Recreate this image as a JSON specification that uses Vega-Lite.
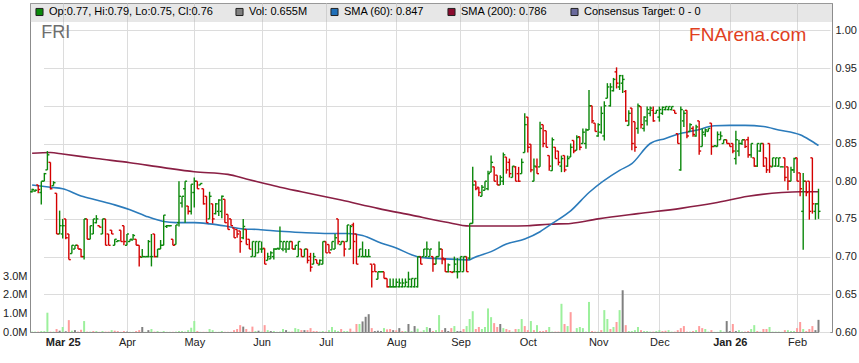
{
"$schema":"https://vega.github.io/schema/vega-lite/v6.json",
"width":802,"height":329,
"autosize":{"type":"none"},
"padding":{"left":30,"top":3,"right":27,"bottom":31},
"background":"white",
"config":{"font":"Liberation Sans","view":{"stroke":"#8c8c8c","strokeWidth":1},"axis":{"labelFont":"Liberation Sans","labelFontSize":11,"labelColor":"#222222","domainColor":"#8c8c8c","gridColor":"#dcdcdc","ticks":false,"title":null}},
"datasets":{
"px":[
{"d":"2025-02-17","o":0.786,"h":0.79,"l":0.785,"c":0.789,"t":"u","v":0.02,"k":"u"},
{"d":"2025-02-18","o":0.787,"h":0.789,"l":0.786,"c":0.788,"t":"u","v":0.02,"k":"u"},
{"d":"2025-02-19","o":0.795,"h":0.795,"l":0.784,"c":0.789,"t":"d","v":0.02,"k":"d"},
{"d":"2025-02-20","o":0.785,"h":0.8,"l":0.769,"c":0.8,"t":"u","v":0.05,"k":"u"},
{"d":"2025-02-21","o":0.8,"h":0.811,"l":0.8,"c":0.81,"t":"u","v":0.05,"k":"u"},
{"d":"2025-02-24","o":0.815,"h":0.84,"l":0.815,"c":0.835,"t":"u","v":1.04,"k":"u"},
{"d":"2025-02-25","o":0.825,"h":0.825,"l":0.789,"c":0.79,"t":"d","v":0.02,"k":"d"},
{"d":"2025-02-26","o":0.794,"h":0.8,"l":0.794,"c":0.798,"t":"u","v":0.02,"k":"u"},
{"d":"2025-02-27","o":0.784,"h":0.784,"l":0.73,"c":0.73,"t":"d","v":0.16,"k":"d"},
{"d":"2025-02-28","o":0.73,"h":0.761,"l":0.73,"c":0.741,"t":"u","v":0.07,"k":"n"},
{"d":"2025-03-03","o":0.73,"h":0.75,"l":0.724,"c":0.741,"t":"u","v":0.27,"k":"u"},
{"d":"2025-03-04","o":0.75,"h":0.75,"l":0.723,"c":0.725,"t":"d","v":0.04,"k":"n"},
{"d":"2025-03-05","o":0.73,"h":0.73,"l":0.696,"c":0.696,"t":"d","v":0.64,"k":"d"},
{"d":"2025-03-06","o":0.704,"h":0.715,"l":0.704,"c":0.715,"t":"u","v":0.07,"k":"u"},
{"d":"2025-03-07","o":0.71,"h":0.715,"l":0.71,"c":0.715,"t":"u","v":0.1,"k":"n"},
{"d":"2025-03-10","o":0.715,"h":0.715,"l":0.71,"c":0.71,"t":"d","v":0.02,"k":"d"},
{"d":"2025-03-11","o":0.71,"h":0.71,"l":0.699,"c":0.7,"t":"d","v":0.12,"k":"d"},
{"d":"2025-03-12","o":0.7,"h":0.75,"l":0.696,"c":0.75,"t":"u","v":0.59,"k":"u"},
{"d":"2025-03-13","o":0.75,"h":0.75,"l":0.723,"c":0.723,"t":"d","v":0.02,"k":"d"},
{"d":"2025-03-14","o":0.723,"h":0.741,"l":0.723,"c":0.741,"t":"u","v":0.02,"k":"u"},
{"d":"2025-03-17","o":0.73,"h":0.75,"l":0.73,"c":0.75,"t":"u","v":0.05,"k":"d"},
{"d":"2025-03-18","o":0.745,"h":0.755,"l":0.744,"c":0.75,"t":"u","v":0.05,"k":"u"},
{"d":"2025-03-19","o":0.741,"h":0.741,"l":0.739,"c":0.739,"t":"d","v":0.01,"k":"d"},
{"d":"2025-03-20","o":0.73,"h":0.75,"l":0.73,"c":0.75,"t":"u","v":0.05,"k":"u"},
{"d":"2025-03-21","o":0.75,"h":0.75,"l":0.715,"c":0.715,"t":"d","v":0.02,"k":"d"},
{"d":"2025-03-24","o":0.73,"h":0.73,"l":0.715,"c":0.715,"t":"d","v":0.02,"k":"d"},
{"d":"2025-03-25","o":0.735,"h":0.735,"l":0.73,"c":0.73,"t":"d","v":0.1,"k":"u"},
{"d":"2025-03-26","o":0.715,"h":0.723,"l":0.715,"c":0.723,"t":"u","v":0.07,"k":"d"},
{"d":"2025-03-27","o":0.72,"h":0.722,"l":0.72,"c":0.721,"t":"u","v":0.05,"k":"d"},
{"d":"2025-03-28","o":0.735,"h":0.735,"l":0.72,"c":0.72,"t":"d","v":0.01,"k":"d"},
{"d":"2025-03-31","o":0.741,"h":0.741,"l":0.715,"c":0.72,"t":"d","v":0.05,"k":"d"},
{"d":"2025-04-01","o":0.715,"h":0.73,"l":0.715,"c":0.73,"t":"u","v":0.02,"k":"n"},
{"d":"2025-04-02","o":0.72,"h":0.723,"l":0.72,"c":0.723,"t":"u","v":0.01,"k":"u"},
{"d":"2025-04-03","o":0.722,"h":0.73,"l":0.722,"c":0.728,"t":"u","v":0.01,"k":"u"},
{"d":"2025-04-04","o":0.723,"h":0.723,"l":0.715,"c":0.715,"t":"d","v":0.05,"k":"d"},
{"d":"2025-04-07","o":0.715,"h":0.715,"l":0.687,"c":0.7,"t":"d","v":0.1,"k":"d"},
{"d":"2025-04-08","o":0.699,"h":0.71,"l":0.699,"c":0.7,"t":"u","v":0.27,"k":"n"},
{"d":"2025-04-09","o":0.7,"h":0.7,"l":0.699,"c":0.7,"t":"u","v":0.01,"k":"u"},
{"d":"2025-04-10","o":0.7,"h":0.722,"l":0.699,"c":0.72,"t":"u","v":0.1,"k":"n"},
{"d":"2025-04-11","o":0.7,"h":0.73,"l":0.687,"c":0.7,"t":"u","v":0.16,"k":"u"},
{"d":"2025-04-14","o":0.73,"h":0.73,"l":0.699,"c":0.7,"t":"d","v":0.02,"k":"d"},
{"d":"2025-04-15","o":0.7,"h":0.71,"l":0.699,"c":0.71,"t":"u","v":0.05,"k":"u"},
{"d":"2025-04-16","o":0.71,"h":0.722,"l":0.71,"c":0.715,"t":"u","v":0.01,"k":"u"},
{"d":"2025-04-17","o":0.715,"h":0.755,"l":0.715,"c":0.755,"t":"u","v":0.05,"k":"u"},
{"d":"2025-04-18","o":0.74,"h":0.742,"l":0.738,"c":0.741,"t":"u","v":0.01,"k":"u"},
{"d":"2025-04-21","o":0.741,"h":0.742,"l":0.74,"c":0.741,"t":"u","v":0.01,"k":"u"},
{"d":"2025-04-22","o":0.723,"h":0.723,"l":0.715,"c":0.715,"t":"d","v":0.01,"k":"d"},
{"d":"2025-04-23","o":0.716,"h":0.742,"l":0.716,"c":0.742,"t":"u","v":0.02,"k":"u"},
{"d":"2025-04-24","o":0.745,"h":0.8,"l":0.74,"c":0.78,"t":"u","v":0.05,"k":"u"},
{"d":"2025-04-25","o":0.771,"h":0.78,"l":0.765,"c":0.78,"t":"u","v":0.05,"k":"u"},
{"d":"2025-04-28","o":0.79,"h":0.8,"l":0.745,"c":0.8,"t":"u","v":0.02,"k":"u"},
{"d":"2025-04-29","o":0.767,"h":0.767,"l":0.756,"c":0.76,"t":"d","v":0.1,"k":"u"},
{"d":"2025-04-30","o":0.76,"h":0.796,"l":0.756,"c":0.796,"t":"u","v":0.23,"k":"u"},
{"d":"2025-05-01","o":0.785,"h":0.805,"l":0.765,"c":0.8,"t":"u","v":0.59,"k":"u"},
{"d":"2025-05-02","o":0.8,"h":0.8,"l":0.79,"c":0.79,"t":"d","v":0.05,"k":"d"},
{"d":"2025-05-05","o":0.795,"h":0.797,"l":0.795,"c":0.797,"t":"u","v":0.01,"k":"u"},
{"d":"2025-05-06","o":0.79,"h":0.79,"l":0.769,"c":0.77,"t":"d","v":0.01,"k":"d"},
{"d":"2025-05-07","o":0.78,"h":0.78,"l":0.745,"c":0.745,"t":"d","v":0.01,"k":"d"},
{"d":"2025-05-08","o":0.75,"h":0.786,"l":0.75,"c":0.78,"t":"u","v":0.16,"k":"u"},
{"d":"2025-05-09","o":0.77,"h":0.77,"l":0.744,"c":0.75,"t":"d","v":0.1,"k":"u"},
{"d":"2025-05-12","o":0.757,"h":0.771,"l":0.756,"c":0.77,"t":"u","v":0.01,"k":"u"},
{"d":"2025-05-13","o":0.76,"h":0.776,"l":0.754,"c":0.775,"t":"u","v":0.01,"k":"u"},
{"d":"2025-05-14","o":0.76,"h":0.781,"l":0.751,"c":0.78,"t":"u","v":0.05,"k":"u"},
{"d":"2025-05-15","o":0.776,"h":0.776,"l":0.745,"c":0.745,"t":"d","v":0.01,"k":"d"},
{"d":"2025-05-16","o":0.756,"h":0.756,"l":0.736,"c":0.736,"t":"d","v":0.01,"k":"d"},
{"d":"2025-05-19","o":0.75,"h":0.75,"l":0.741,"c":0.741,"t":"d","v":0.01,"k":"d"},
{"d":"2025-05-20","o":0.738,"h":0.738,"l":0.725,"c":0.725,"t":"d","v":0.1,"k":"d"},
{"d":"2025-05-21","o":0.736,"h":0.736,"l":0.725,"c":0.73,"t":"d","v":0.16,"k":"d"},
{"d":"2025-05-22","o":0.734,"h":0.734,"l":0.705,"c":0.72,"t":"d","v":0.37,"k":"d"},
{"d":"2025-05-23","o":0.725,"h":0.75,"l":0.723,"c":0.74,"t":"u","v":0.29,"k":"n"},
{"d":"2025-05-26","o":0.736,"h":0.736,"l":0.716,"c":0.716,"t":"d","v":0.16,"k":"d"},
{"d":"2025-05-27","o":0.723,"h":0.723,"l":0.71,"c":0.71,"t":"d","v":0.02,"k":"d"},
{"d":"2025-05-28","o":0.7,"h":0.72,"l":0.7,"c":0.72,"t":"u","v":0.29,"k":"d"},
{"d":"2025-05-29","o":0.7,"h":0.72,"l":0.7,"c":0.72,"t":"u","v":0.05,"k":"u"},
{"d":"2025-05-30","o":0.705,"h":0.72,"l":0.705,"c":0.72,"t":"u","v":0.07,"k":"n"},
{"d":"2025-06-02","o":0.71,"h":0.72,"l":0.705,"c":0.71,"t":"u","v":0.02,"k":"u"},
{"d":"2025-06-03","o":0.711,"h":0.711,"l":0.69,"c":0.69,"t":"d","v":0.37,"k":"d"},
{"d":"2025-06-04","o":0.695,"h":0.705,"l":0.695,"c":0.7,"t":"u","v":0.1,"k":"u"},
{"d":"2025-06-05","o":0.697,"h":0.707,"l":0.697,"c":0.705,"t":"u","v":0.05,"k":"n"},
{"d":"2025-06-06","o":0.7,"h":0.711,"l":0.696,"c":0.71,"t":"u","v":0.05,"k":"u"},
{"d":"2025-06-09","o":0.71,"h":0.711,"l":0.709,"c":0.711,"t":"u","v":0.01,"k":"u"},
{"d":"2025-06-10","o":0.71,"h":0.74,"l":0.71,"c":0.72,"t":"u","v":0.02,"k":"u"},
{"d":"2025-06-11","o":0.71,"h":0.72,"l":0.707,"c":0.72,"t":"u","v":0.16,"k":"u"},
{"d":"2025-06-12","o":0.71,"h":0.72,"l":0.705,"c":0.72,"t":"u","v":0.1,"k":"n"},
{"d":"2025-06-13","o":0.71,"h":0.72,"l":0.709,"c":0.72,"t":"u","v":0.02,"k":"u"},
{"d":"2025-06-16","o":0.72,"h":0.72,"l":0.71,"c":0.71,"t":"d","v":0.02,"k":"d"},
{"d":"2025-06-17","o":0.71,"h":0.715,"l":0.709,"c":0.715,"t":"u","v":0.21,"k":"u"},
{"d":"2025-06-18","o":0.7,"h":0.72,"l":0.7,"c":0.72,"t":"u","v":0.16,"k":"u"},
{"d":"2025-06-19","o":0.71,"h":0.71,"l":0.7,"c":0.7,"t":"d","v":0.1,"k":"d"},
{"d":"2025-06-20","o":0.7,"h":0.71,"l":0.7,"c":0.71,"t":"u","v":0.1,"k":"n"},
{"d":"2025-06-23","o":0.71,"h":0.71,"l":0.691,"c":0.695,"t":"d","v":0.1,"k":"d"},
{"d":"2025-06-24","o":0.7,"h":0.705,"l":0.68,"c":0.686,"t":"d","v":0.21,"k":"d"},
{"d":"2025-06-25","o":0.69,"h":0.705,"l":0.69,"c":0.7,"t":"u","v":0.05,"k":"d"},
{"d":"2025-06-26","o":0.696,"h":0.696,"l":0.691,"c":0.691,"t":"d","v":0.05,"k":"d"},
{"d":"2025-06-27","o":0.689,"h":0.696,"l":0.689,"c":0.695,"t":"u","v":0.02,"k":"u"},
{"d":"2025-06-30","o":0.69,"h":0.72,"l":0.69,"c":0.72,"t":"u","v":0.05,"k":"u"},
{"d":"2025-07-01","o":0.72,"h":0.72,"l":0.705,"c":0.705,"t":"d","v":0.02,"k":"d"},
{"d":"2025-07-02","o":0.716,"h":0.716,"l":0.705,"c":0.705,"t":"d","v":0.1,"k":"u"},
{"d":"2025-07-03","o":0.709,"h":0.72,"l":0.709,"c":0.72,"t":"u","v":0.27,"k":"u"},
{"d":"2025-07-04","o":0.71,"h":0.73,"l":0.71,"c":0.725,"t":"u","v":0.1,"k":"u"},
{"d":"2025-07-07","o":0.75,"h":0.75,"l":0.716,"c":0.72,"t":"d","v":0.05,"k":"u"},
{"d":"2025-07-08","o":0.716,"h":0.72,"l":0.716,"c":0.72,"t":"u","v":0.16,"k":"d"},
{"d":"2025-07-09","o":0.72,"h":0.72,"l":0.7,"c":0.71,"t":"d","v":0.05,"k":"u"},
{"d":"2025-07-10","o":0.72,"h":0.742,"l":0.72,"c":0.742,"t":"u","v":0.05,"k":"u"},
{"d":"2025-07-11","o":0.71,"h":0.742,"l":0.71,"c":0.74,"t":"u","v":0.18,"k":"d"},
{"d":"2025-07-14","o":0.742,"h":0.745,"l":0.69,"c":0.72,"t":"d","v":0.02,"k":"d"},
{"d":"2025-07-15","o":0.73,"h":0.73,"l":0.69,"c":0.69,"t":"d","v":0.43,"k":"d"},
{"d":"2025-07-16","o":0.7,"h":0.71,"l":0.7,"c":0.71,"t":"u","v":0.43,"k":"u"},
{"d":"2025-07-17","o":0.7,"h":0.72,"l":0.7,"c":0.7,"t":"u","v":0.57,"k":"n"},
{"d":"2025-07-18","o":0.7,"h":0.71,"l":0.7,"c":0.7,"t":"u","v":0.82,"k":"n"},
{"d":"2025-07-21","o":0.7,"h":0.71,"l":0.7,"c":0.7,"t":"u","v":0.96,"k":"n"},
{"d":"2025-07-22","o":0.69,"h":0.69,"l":0.659,"c":0.68,"t":"d","v":0.21,"k":"d"},
{"d":"2025-07-23","o":0.69,"h":0.69,"l":0.68,"c":0.68,"t":"d","v":0.05,"k":"n"},
{"d":"2025-07-24","o":0.67,"h":0.68,"l":0.67,"c":0.68,"t":"u","v":0.07,"k":"n"},
{"d":"2025-07-25","o":0.68,"h":0.68,"l":0.679,"c":0.68,"t":"u","v":0.05,"k":"n"},
{"d":"2025-07-28","o":0.68,"h":0.68,"l":0.671,"c":0.671,"t":"d","v":0.21,"k":"u"},
{"d":"2025-07-29","o":0.671,"h":0.671,"l":0.659,"c":0.66,"t":"d","v":0.14,"k":"d"},
{"d":"2025-07-30","o":0.66,"h":0.671,"l":0.659,"c":0.66,"t":"u","v":0.16,"k":"d"},
{"d":"2025-07-31","o":0.66,"h":0.671,"l":0.659,"c":0.66,"t":"u","v":0.1,"k":"n"},
{"d":"2025-08-01","o":0.66,"h":0.671,"l":0.659,"c":0.666,"t":"u","v":0.09,"k":"d"},
{"d":"2025-08-04","o":0.66,"h":0.671,"l":0.659,"c":0.665,"t":"u","v":0.21,"k":"n"},
{"d":"2025-08-05","o":0.66,"h":0.671,"l":0.659,"c":0.665,"t":"u","v":0.05,"k":"d"},
{"d":"2025-08-06","o":0.66,"h":0.671,"l":0.66,"c":0.666,"t":"u","v":0.05,"k":"u"},
{"d":"2025-08-07","o":0.66,"h":0.68,"l":0.659,"c":0.67,"t":"u","v":0.43,"k":"n"},
{"d":"2025-08-08","o":0.66,"h":0.671,"l":0.659,"c":0.671,"t":"u","v":0.05,"k":"u"},
{"d":"2025-08-11","o":0.66,"h":0.671,"l":0.659,"c":0.671,"t":"u","v":0.32,"k":"n"},
{"d":"2025-08-12","o":0.66,"h":0.7,"l":0.659,"c":0.7,"t":"u","v":0.18,"k":"u"},
{"d":"2025-08-13","o":0.7,"h":0.7,"l":0.69,"c":0.69,"t":"d","v":0.02,"k":"d"},
{"d":"2025-08-14","o":0.7,"h":0.71,"l":0.7,"c":0.71,"t":"u","v":0.1,"k":"u"},
{"d":"2025-08-15","o":0.7,"h":0.72,"l":0.7,"c":0.71,"t":"u","v":0.27,"k":"u"},
{"d":"2025-08-18","o":0.7,"h":0.71,"l":0.7,"c":0.71,"t":"u","v":0.21,"k":"n"},
{"d":"2025-08-19","o":0.7,"h":0.7,"l":0.68,"c":0.69,"t":"d","v":0.05,"k":"d"},
{"d":"2025-08-20","o":0.69,"h":0.7,"l":0.69,"c":0.7,"t":"u","v":0.1,"k":"u"},
{"d":"2025-08-21","o":0.7,"h":0.72,"l":0.7,"c":0.71,"t":"u","v":0.91,"k":"u"},
{"d":"2025-08-22","o":0.71,"h":0.71,"l":0.69,"c":0.698,"t":"d","v":0.1,"k":"d"},
{"d":"2025-08-25","o":0.696,"h":0.698,"l":0.68,"c":0.68,"t":"d","v":0.21,"k":"n"},
{"d":"2025-08-26","o":0.68,"h":0.691,"l":0.679,"c":0.689,"t":"u","v":0.05,"k":"n"},
{"d":"2025-08-27","o":0.68,"h":0.68,"l":0.679,"c":0.679,"t":"d","v":0.21,"k":"d"},
{"d":"2025-08-28","o":0.68,"h":0.7,"l":0.679,"c":0.69,"t":"u","v":0.32,"k":"u"},
{"d":"2025-08-29","o":0.68,"h":0.698,"l":0.671,"c":0.68,"t":"u","v":0.05,"k":"n"},
{"d":"2025-09-01","o":0.68,"h":0.7,"l":0.68,"c":0.7,"t":"u","v":0.05,"k":"n"},
{"d":"2025-09-02","o":0.68,"h":0.7,"l":0.68,"c":0.7,"t":"u","v":0.16,"k":"d"},
{"d":"2025-09-03","o":0.7,"h":0.7,"l":0.68,"c":0.68,"t":"d","v":0.32,"k":"u"},
{"d":"2025-09-04","o":0.698,"h":0.744,"l":0.696,"c":0.744,"t":"u","v":0.7,"k":"u"},
{"d":"2025-09-05","o":0.744,"h":0.819,"l":0.744,"c":0.795,"t":"u","v":1.12,"k":"u"},
{"d":"2025-09-08","o":0.8,"h":0.8,"l":0.788,"c":0.79,"t":"d","v":0.16,"k":"d"},
{"d":"2025-09-09","o":0.792,"h":0.792,"l":0.78,"c":0.785,"t":"d","v":0.27,"k":"d"},
{"d":"2025-09-10","o":0.78,"h":0.795,"l":0.78,"c":0.792,"t":"u","v":0.16,"k":"u"},
{"d":"2025-09-11","o":0.788,"h":0.8,"l":0.788,"c":0.8,"t":"u","v":0.27,"k":"u"},
{"d":"2025-09-12","o":0.79,"h":0.814,"l":0.788,"c":0.81,"t":"u","v":1.27,"k":"u"},
{"d":"2025-09-15","o":0.812,"h":0.834,"l":0.812,"c":0.825,"t":"u","v":0.8,"k":"u"},
{"d":"2025-09-16","o":0.819,"h":0.819,"l":0.8,"c":0.8,"t":"d","v":0.48,"k":"d"},
{"d":"2025-09-17","o":0.808,"h":0.808,"l":0.795,"c":0.795,"t":"d","v":0.27,"k":"d"},
{"d":"2025-09-18","o":0.795,"h":0.808,"l":0.795,"c":0.805,"t":"u","v":0.43,"k":"n"},
{"d":"2025-09-19","o":0.8,"h":0.838,"l":0.795,"c":0.835,"t":"u","v":0.21,"k":"u"},
{"d":"2025-09-22","o":0.832,"h":0.832,"l":0.81,"c":0.815,"t":"d","v":0.16,"k":"d"},
{"d":"2025-09-23","o":0.825,"h":0.83,"l":0.805,"c":0.81,"t":"d","v":0.1,"k":"d"},
{"d":"2025-09-24","o":0.805,"h":0.82,"l":0.805,"c":0.82,"t":"u","v":0.02,"k":"u"},
{"d":"2025-09-25","o":0.819,"h":0.82,"l":0.8,"c":0.8,"t":"d","v":0.16,"k":"d"},
{"d":"2025-09-26","o":0.81,"h":0.819,"l":0.799,"c":0.8,"t":"d","v":0.16,"k":"u"},
{"d":"2025-09-29","o":0.81,"h":0.83,"l":0.81,"c":0.825,"t":"u","v":0.7,"k":"u"},
{"d":"2025-09-30","o":0.838,"h":0.89,"l":0.838,"c":0.875,"t":"u","v":0.32,"k":"d"},
{"d":"2025-10-01","o":0.885,"h":0.885,"l":0.838,"c":0.845,"t":"d","v":0.1,"k":"d"},
{"d":"2025-10-02","o":0.849,"h":0.849,"l":0.812,"c":0.815,"t":"d","v":0.59,"k":"u"},
{"d":"2025-10-03","o":0.8,"h":0.83,"l":0.8,"c":0.82,"t":"u","v":0.1,"k":"d"},
{"d":"2025-10-06","o":0.819,"h":0.83,"l":0.81,"c":0.81,"t":"d","v":0.37,"k":"u"},
{"d":"2025-10-07","o":0.819,"h":0.879,"l":0.819,"c":0.87,"t":"u","v":0.05,"k":"d"},
{"d":"2025-10-08","o":0.875,"h":0.875,"l":0.845,"c":0.85,"t":"d","v":0.05,"k":"d"},
{"d":"2025-10-09","o":0.867,"h":0.867,"l":0.845,"c":0.845,"t":"d","v":0.1,"k":"d"},
{"d":"2025-10-10","o":0.834,"h":0.834,"l":0.814,"c":0.82,"t":"d","v":0.27,"k":"u"},
{"d":"2025-10-13","o":0.814,"h":0.858,"l":0.814,"c":0.855,"t":"u","v":0.02,"k":"u"},
{"d":"2025-10-14","o":0.845,"h":0.845,"l":0.83,"c":0.83,"t":"d","v":0.02,"k":"d"},
{"d":"2025-10-15","o":0.84,"h":0.84,"l":0.821,"c":0.825,"t":"d","v":0.02,"k":"d"},
{"d":"2025-10-16","o":0.82,"h":0.834,"l":0.812,"c":0.83,"t":"u","v":1.52,"k":"u"},
{"d":"2025-10-17","o":0.834,"h":0.834,"l":0.812,"c":0.815,"t":"d","v":0.43,"k":"d"},
{"d":"2025-10-20","o":0.82,"h":0.834,"l":0.819,"c":0.83,"t":"u","v":0.32,"k":"u"},
{"d":"2025-10-21","o":0.832,"h":0.85,"l":0.832,"c":0.845,"t":"u","v":1.07,"k":"d"},
{"d":"2025-10-22","o":0.854,"h":0.854,"l":0.837,"c":0.84,"t":"d","v":0.02,"k":"d"},
{"d":"2025-10-23","o":0.841,"h":0.861,"l":0.841,"c":0.858,"t":"u","v":0.21,"k":"u"},
{"d":"2025-10-24","o":0.859,"h":0.859,"l":0.841,"c":0.845,"t":"d","v":0.27,"k":"u"},
{"d":"2025-10-27","o":0.85,"h":0.87,"l":0.85,"c":0.865,"t":"u","v":0.21,"k":"u"},
{"d":"2025-10-28","o":0.85,"h":0.87,"l":0.843,"c":0.868,"t":"u","v":0.02,"k":"u"},
{"d":"2025-10-29","o":0.868,"h":0.921,"l":0.868,"c":0.9,"t":"u","v":1.62,"k":"u"},
{"d":"2025-10-30","o":0.9,"h":0.9,"l":0.877,"c":0.88,"t":"d","v":0.05,"k":"d"},
{"d":"2025-10-31","o":0.877,"h":0.877,"l":0.866,"c":0.866,"t":"d","v":0.02,"k":"d"},
{"d":"2025-11-03","o":0.86,"h":0.877,"l":0.859,"c":0.875,"t":"u","v":0.02,"k":"u"},
{"d":"2025-11-04","o":0.865,"h":0.899,"l":0.863,"c":0.89,"t":"u","v":0.1,"k":"d"},
{"d":"2025-11-05","o":0.86,"h":0.906,"l":0.854,"c":0.9,"t":"u","v":1.18,"k":"u"},
{"d":"2025-11-06","o":0.91,"h":0.93,"l":0.91,"c":0.925,"t":"u","v":0.7,"k":"u"},
{"d":"2025-11-07","o":0.9,"h":0.93,"l":0.899,"c":0.925,"t":"u","v":0.16,"k":"d"},
{"d":"2025-11-10","o":0.92,"h":0.937,"l":0.919,"c":0.935,"t":"u","v":0.27,"k":"u"},
{"d":"2025-11-11","o":0.945,"h":0.951,"l":0.923,"c":0.93,"t":"d","v":0.54,"k":"d"},
{"d":"2025-11-12","o":0.925,"h":0.941,"l":0.921,"c":0.94,"t":"u","v":1.18,"k":"u"},
{"d":"2025-11-13","o":0.93,"h":0.941,"l":0.917,"c":0.935,"t":"u","v":2.25,"k":"n"},
{"d":"2025-11-14","o":0.919,"h":0.921,"l":0.879,"c":0.88,"t":"d","v":0.37,"k":"d"},
{"d":"2025-11-17","o":0.874,"h":0.894,"l":0.874,"c":0.89,"t":"u","v":0.05,"k":"u"},
{"d":"2025-11-18","o":0.897,"h":0.897,"l":0.841,"c":0.85,"t":"d","v":0.05,"k":"u"},
{"d":"2025-11-19","o":0.879,"h":0.879,"l":0.839,"c":0.845,"t":"d","v":0.1,"k":"u"},
{"d":"2025-11-20","o":0.87,"h":0.903,"l":0.863,"c":0.9,"t":"u","v":0.27,"k":"u"},
{"d":"2025-11-21","o":0.899,"h":0.899,"l":0.87,"c":0.875,"t":"d","v":0.1,"k":"d"},
{"d":"2025-11-24","o":0.87,"h":0.886,"l":0.866,"c":0.885,"t":"u","v":0.05,"k":"u"},
{"d":"2025-11-25","o":0.88,"h":0.899,"l":0.874,"c":0.895,"t":"u","v":0.05,"k":"u"},
{"d":"2025-11-26","o":0.89,"h":0.899,"l":0.886,"c":0.897,"t":"u","v":0.02,"k":"u"},
{"d":"2025-11-27","o":0.894,"h":0.899,"l":0.879,"c":0.88,"t":"d","v":0.02,"k":"d"},
{"d":"2025-11-28","o":0.89,"h":0.894,"l":0.89,"c":0.894,"t":"u","v":0.05,"k":"u"},
{"d":"2025-12-01","o":0.885,"h":0.899,"l":0.879,"c":0.895,"t":"u","v":0.1,"k":"u"},
{"d":"2025-12-02","o":0.89,"h":0.899,"l":0.888,"c":0.898,"t":"u","v":0.05,"k":"d"},
{"d":"2025-12-03","o":0.895,"h":0.899,"l":0.894,"c":0.899,"t":"u","v":0.07,"k":"d"},
{"d":"2025-12-04","o":0.895,"h":0.899,"l":0.894,"c":0.899,"t":"u","v":0.1,"k":"u"},
{"d":"2025-12-05","o":0.895,"h":0.899,"l":0.894,"c":0.899,"t":"u","v":0.02,"k":"u"},
{"d":"2025-12-08","o":0.894,"h":0.894,"l":0.89,"c":0.89,"t":"d","v":0.02,"k":"d"},
{"d":"2025-12-09","o":0.863,"h":0.863,"l":0.85,"c":0.85,"t":"d","v":0.1,"k":"d"},
{"d":"2025-12-10","o":0.815,"h":0.899,"l":0.814,"c":0.895,"t":"u","v":0.21,"k":"d"},
{"d":"2025-12-11","o":0.88,"h":0.894,"l":0.872,"c":0.89,"t":"u","v":0.32,"k":"d"},
{"d":"2025-12-12","o":0.894,"h":0.894,"l":0.857,"c":0.86,"t":"d","v":0.02,"k":"d"},
{"d":"2025-12-15","o":0.866,"h":0.877,"l":0.866,"c":0.875,"t":"u","v":0.02,"k":"u"},
{"d":"2025-12-16","o":0.87,"h":0.873,"l":0.859,"c":0.862,"t":"d","v":0.05,"k":"d"},
{"d":"2025-12-17","o":0.86,"h":0.875,"l":0.859,"c":0.872,"t":"u","v":0.1,"k":"u"},
{"d":"2025-12-18","o":0.88,"h":0.88,"l":0.835,"c":0.84,"t":"d","v":0.32,"k":"d"},
{"d":"2025-12-19","o":0.846,"h":0.87,"l":0.846,"c":0.865,"t":"u","v":0.21,"k":"d"},
{"d":"2025-12-22","o":0.862,"h":0.87,"l":0.859,"c":0.868,"t":"u","v":0.16,"k":"u"},
{"d":"2025-12-23","o":0.866,"h":0.87,"l":0.866,"c":0.87,"t":"u","v":0.02,"k":"u"},
{"d":"2025-12-24","o":0.877,"h":0.877,"l":0.835,"c":0.846,"t":"d","v":0.1,"k":"d"},
{"d":"2025-12-25","o":0.846,"h":0.848,"l":0.846,"c":0.847,"t":"u","v":0.01,"k":"u"},
{"d":"2025-12-26","o":0.846,"h":0.866,"l":0.846,"c":0.862,"t":"u","v":0.01,"k":"u"},
{"d":"2025-12-29","o":0.855,"h":0.866,"l":0.855,"c":0.86,"t":"u","v":0.1,"k":"u"},
{"d":"2025-12-30","o":0.85,"h":0.855,"l":0.85,"c":0.855,"t":"u","v":0.02,"k":"u"},
{"d":"2025-12-31","o":0.855,"h":0.855,"l":0.85,"c":0.85,"t":"d","v":0.59,"k":"n"},
{"d":"2026-01-01","o":0.85,"h":0.85,"l":0.846,"c":0.846,"t":"d","v":0.05,"k":"n"},
{"d":"2026-01-02","o":0.85,"h":0.85,"l":0.837,"c":0.84,"t":"d","v":0.43,"k":"d"},
{"d":"2026-01-05","o":0.83,"h":0.867,"l":0.822,"c":0.855,"t":"u","v":0.05,"k":"n"},
{"d":"2026-01-06","o":0.84,"h":0.855,"l":0.833,"c":0.85,"t":"u","v":0.1,"k":"u"},
{"d":"2026-01-07","o":0.85,"h":0.855,"l":0.848,"c":0.855,"t":"u","v":0.02,"k":"u"},
{"d":"2026-01-08","o":0.855,"h":0.855,"l":0.844,"c":0.846,"t":"d","v":0.02,"k":"d"},
{"d":"2026-01-09","o":0.855,"h":0.859,"l":0.831,"c":0.835,"t":"d","v":0.05,"k":"d"},
{"d":"2026-01-12","o":0.835,"h":0.85,"l":0.831,"c":0.85,"t":"u","v":0.16,"k":"u"},
{"d":"2026-01-13","o":0.831,"h":0.831,"l":0.819,"c":0.82,"t":"d","v":0.37,"k":"u"},
{"d":"2026-01-14","o":0.82,"h":0.85,"l":0.819,"c":0.85,"t":"u","v":0.05,"k":"d"},
{"d":"2026-01-15","o":0.84,"h":0.85,"l":0.839,"c":0.85,"t":"u","v":0.02,"k":"u"},
{"d":"2026-01-16","o":0.85,"h":0.85,"l":0.819,"c":0.82,"t":"d","v":0.16,"k":"d"},
{"d":"2026-01-19","o":0.831,"h":0.831,"l":0.811,"c":0.815,"t":"d","v":0.16,"k":"d"},
{"d":"2026-01-20","o":0.85,"h":0.85,"l":0.811,"c":0.82,"t":"d","v":0.27,"k":"u"},
{"d":"2026-01-21","o":0.819,"h":0.831,"l":0.819,"c":0.831,"t":"u","v":0.02,"k":"u"},
{"d":"2026-01-22","o":0.82,"h":0.831,"l":0.819,"c":0.831,"t":"u","v":0.02,"k":"u"},
{"d":"2026-01-23","o":0.82,"h":0.831,"l":0.819,"c":0.831,"t":"u","v":0.02,"k":"u"},
{"d":"2026-01-26","o":0.819,"h":0.82,"l":0.819,"c":0.819,"t":"u","v":0.01,"k":"u"},
{"d":"2026-01-27","o":0.831,"h":0.831,"l":0.8,"c":0.805,"t":"d","v":0.1,"k":"d"},
{"d":"2026-01-28","o":0.819,"h":0.819,"l":0.788,"c":0.8,"t":"d","v":0.1,"k":"u"},
{"d":"2026-01-29","o":0.8,"h":0.819,"l":0.8,"c":0.815,"t":"u","v":0.05,"k":"u"},
{"d":"2026-01-30","o":0.815,"h":0.831,"l":0.811,"c":0.83,"t":"u","v":0.05,"k":"u"},
{"d":"2026-02-02","o":0.831,"h":0.831,"l":0.8,"c":0.8,"t":"d","v":0.21,"k":"d"},
{"d":"2026-02-03","o":0.811,"h":0.811,"l":0.78,"c":0.79,"t":"d","v":0.54,"k":"d"},
{"d":"2026-02-04","o":0.76,"h":0.811,"l":0.709,"c":0.8,"t":"u","v":0.16,"k":"u"},
{"d":"2026-02-05","o":0.8,"h":0.8,"l":0.78,"c":0.785,"t":"d","v":0.05,"k":"d"},
{"d":"2026-02-06","o":0.8,"h":0.8,"l":0.749,"c":0.76,"t":"d","v":0.16,"k":"d"},
{"d":"2026-02-09","o":0.831,"h":0.831,"l":0.757,"c":0.77,"t":"d","v":0.32,"k":"d"},
{"d":"2026-02-10","o":0.76,"h":0.771,"l":0.749,"c":0.77,"t":"u","v":0.1,"k":"n"},
{"d":"2026-02-11","o":0.77,"h":0.79,"l":0.75,"c":0.76,"t":"u","v":0.655,"k":"n"}
],
"s60":[
{"d":"2025-02-17","v":0.795},{"d":"2025-02-25","v":0.792},{"d":"2025-03-03","v":0.79},{"d":"2025-03-11","v":0.7805},{"d":"2025-03-18","v":0.775},{"d":"2025-03-26","v":0.7686},{"d":"2025-04-02","v":0.762},{"d":"2025-04-09","v":0.754},{"d":"2025-04-17","v":0.7465},{"d":"2025-04-23","v":0.745},{"d":"2025-05-01","v":0.745},{"d":"2025-05-08","v":0.7434},{"d":"2025-05-16","v":0.74},{"d":"2025-05-23","v":0.7367},{"d":"2025-05-30","v":0.736},{"d":"2025-06-10","v":0.7336},{"d":"2025-06-19","v":0.732},{"d":"2025-07-02","v":0.7307},{"d":"2025-07-10","v":0.7307},{"d":"2025-07-17","v":0.728},{"d":"2025-07-25","v":0.718},{"d":"2025-08-01","v":0.7114},{"d":"2025-08-08","v":0.7025},{"d":"2025-08-13","v":0.699},{"d":"2025-08-25","v":0.697},{"d":"2025-09-04","v":0.6957},{"d":"2025-09-05","v":0.6978},{"d":"2025-09-15","v":0.7066},{"d":"2025-09-22","v":0.7167},{"d":"2025-09-30","v":0.7233},{"d":"2025-10-07","v":0.733},{"d":"2025-10-13","v":0.744},{"d":"2025-10-21","v":0.7607},{"d":"2025-10-29","v":0.785},{"d":"2025-11-12","v":0.8144},{"d":"2025-11-18","v":0.8233},{"d":"2025-11-26","v":0.85},{"d":"2025-12-03","v":0.8567},{"d":"2025-12-09","v":0.8624},{"d":"2025-12-17","v":0.8675},{"d":"2025-12-25","v":0.8735},{"d":"2026-01-01","v":0.874},{"d":"2026-01-08","v":0.874},{"d":"2026-01-16","v":0.8726},{"d":"2026-01-23","v":0.868},{"d":"2026-02-03","v":0.8615},{"d":"2026-02-06","v":0.855},{"d":"2026-02-11","v":0.8473}
],
"s200":[
{"d":"2025-02-17","v":0.837},{"d":"2025-02-25","v":0.838},{"d":"2025-03-03","v":0.836},{"d":"2025-03-18","v":0.83},{"d":"2025-04-02","v":0.8245},{"d":"2025-04-17","v":0.818},{"d":"2025-05-01","v":0.8126},{"d":"2025-05-16","v":0.809},{"d":"2025-05-26","v":0.803},{"d":"2025-05-30","v":0.799},{"d":"2025-06-10","v":0.792},{"d":"2025-06-19","v":0.786},{"d":"2025-07-08","v":0.775},{"d":"2025-07-24","v":0.764},{"d":"2025-08-08","v":0.755},{"d":"2025-08-25","v":0.746},{"d":"2025-09-04","v":0.7406},{"d":"2025-09-22","v":0.7405},{"d":"2025-10-01","v":0.741},{"d":"2025-10-10","v":0.743},{"d":"2025-10-21","v":0.744},{"d":"2025-11-03","v":0.75},{"d":"2025-11-20","v":0.757},{"d":"2025-12-10","v":0.764},{"d":"2025-12-25","v":0.771},{"d":"2026-01-09","v":0.78},{"d":"2026-01-26","v":0.785},{"d":"2026-02-03","v":0.786},{"d":"2026-02-11","v":0.786}
],
"hdr":[{"y1":1.0111,"y2":1.0363}],
"t1":[{"d":"2025-02-20","p":0.9895,"txt":"FRI"}],
"t2":[{"d":"2026-02-05","p":0.9865,"txt":"FNArena.com"}],
"leg":[{"e":"Op:0.77, Hi:0.79, Lo:0.75, Cl:0.76"},{"e":"Vol: 0.655M"},{"e":"SMA (60): 0.847"},{"e":"SMA (200): 0.786"},{"e":"Consensus Target: 0 - 0"}]
},
"layer":[
{"data":{"name":"px"},
 "mark":{"type":"bar","width":2},
 "encoding":{
  "x":{"field":"d","type":"ordinal","scale":{"type":"point","range":[2.1,788.5],"padding":0},
   "axis":{"orient":"bottom","values":["2025-03-03","2025-04-01","2025-05-01","2025-06-02","2025-07-01","2025-08-01","2025-09-01","2025-10-01","2025-11-03","2025-12-01","2026-01-01","2026-02-02"],
    "labelExpr":"datum.value=='2025-03-03'?'Mar 25':datum.value=='2026-01-01'?'Jan 26':['Jan','Feb','Mar','Apr','May','Jun','Jul','Aug','Sep','Oct','Nov','Dec'][toNumber(substring(datum.value,5,7))-1]",
    "labelFontWeight":{"condition":{"test":"datum.value=='2025-03-03'||datum.value=='2026-01-01'","value":"bold"},"value":"normal"},
    "labelAngle":0,"labelPadding":4,"grid":true,"gridColor":"#dcdcdc","ticks":false,"labelOverlap":false}},
  "y":{"field":"v","type":"quantitative","scale":{"domain":[0,17.73],"nice":false,"zero":true},
   "axis":{"orient":"left","values":[0,1,2,3],"labelExpr":"format(datum.value,'.1f')+'M'","grid":false,"labelPadding":3}},
  "color":{"field":"k","type":"nominal","scale":{"domain":["u","d","n"],"range":["#9cf09c","#ff9c9c","#808080"]},"legend":null}
 }},
{"layer":[
 {"data":{"name":"hdr"},"mark":{"type":"rect","fill":"#b4b4b4","opacity":0.32},
  "encoding":{"y":{"field":"y1","type":"quantitative","scale":{"domain":[0.6,1.03634],"nice":false,"zero":false}},"y2":{"field":"y2"}}},
 {"data":{"name":"s200"},"mark":{"type":"line","color":"#8a1f44","strokeWidth":1.6,"interpolate":"monotone"},
  "encoding":{"x":{"field":"d","type":"ordinal"},"y":{"field":"v","type":"quantitative","scale":{"domain":[0.6,1.03634],"nice":false,"zero":false}}}},
 {"data":{"name":"s60"},"mark":{"type":"line","color":"#2b7bbb","strokeWidth":1.6,"interpolate":"monotone"},
  "encoding":{"x":{"field":"d","type":"ordinal"},"y":{"field":"v","type":"quantitative","scale":{"domain":[0.6,1.03634],"nice":false,"zero":false}}}},
 {"data":{"name":"px"},"mark":{"type":"rule","strokeWidth":1.4},
  "encoding":{"x":{"field":"d","type":"ordinal"},
   "y":{"field":"l","type":"quantitative","scale":{"domain":[0.6,1.03634],"nice":false,"zero":false},
    "axis":{"orient":"right","values":[0.6,0.65,0.7,0.75,0.8,0.85,0.9,0.95,1.0],"format":".2f","grid":true,"gridColor":"#dcdcdc","ticks":false,"labelPadding":3}},
   "y2":{"field":"h"},
   "color":{"field":"t","type":"nominal","scale":{"domain":["u","d"],"range":["#0b870b","#d40000"]},"legend":null}}},
 {"data":{"name":"px"},"mark":{"type":"rule","strokeWidth":1.4,"xOffset":-2,"x2Offset":0},
  "encoding":{"x":{"field":"d","type":"ordinal"},"x2":{"field":"d"},
   "y":{"field":"o","type":"quantitative","scale":{"domain":[0.6,1.03634],"nice":false,"zero":false}},
   "color":{"field":"t","type":"nominal","scale":{"domain":["u","d"],"range":["#0b870b","#d40000"]},"legend":null}}},
 {"data":{"name":"px"},"mark":{"type":"rule","strokeWidth":1.4,"xOffset":0,"x2Offset":2},
  "encoding":{"x":{"field":"d","type":"ordinal"},"x2":{"field":"d"},
   "y":{"field":"c","type":"quantitative","scale":{"domain":[0.6,1.03634],"nice":false,"zero":false}},
   "color":{"field":"t","type":"nominal","scale":{"domain":["u","d"],"range":["#0b870b","#d40000"]},"legend":null}}},
 {"data":{"name":"t1"},"mark":{"type":"text","align":"left","baseline":"alphabetic","fontSize":18,"color":"#6e6e6e","font":"Liberation Sans"},
  "encoding":{"x":{"field":"d","type":"ordinal"},"y":{"field":"p","type":"quantitative","scale":{"domain":[0.6,1.03634],"nice":false,"zero":false}},"text":{"field":"txt"}}},
 {"data":{"name":"t2"},"mark":{"type":"text","align":"right","baseline":"alphabetic","fontSize":19,"color":"#e0401e","font":"Liberation Sans"},
  "encoding":{"x":{"field":"d","type":"ordinal"},"y":{"field":"p","type":"quantitative","scale":{"domain":[0.6,1.03634],"nice":false,"zero":false}},"text":{"field":"txt"}}},
 {"data":{"name":"leg"},"mark":{"type":"square","filled":true,"opacity":0},
  "encoding":{"fill":{"field":"e","type":"nominal",
   "scale":{"domain":["Op:0.77, Hi:0.79, Lo:0.75, Cl:0.76","Vol: 0.655M","SMA (60): 0.847","SMA (200): 0.786","Consensus Target: 0 - 0"],"range":["#0a8a0a","#808080","#1f6fb8","#8a0a2e","#6a6a9c"]},
   "legend":{"orient":"none","legendX":4,"legendY":3,"direction":"horizontal","columns":5,"title":null,"symbolType":"square","symbolSize":50,"symbolStrokeColor":"#222222","symbolStrokeWidth":1,"symbolOpacity":1,"labelFontSize":11,"labelFont":"Liberation Sans","labelColor":"#000000","labelOffset":4,"columnPadding":20,"padding":0,"labelLimit":400}}}}
]}
],
"resolve":{"scale":{"y":"independent","color":"independent"}}
}
